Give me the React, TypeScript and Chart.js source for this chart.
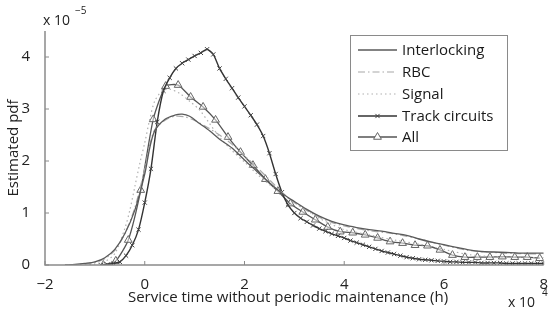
import React, { useEffect, useRef } from "react";
import { Chart, registerables } from "chart.js";
Chart.register(...registerables);

// x in units of 1e4 h, y in units of 1e-5
const xTicks = [-2, 0, 2, 4, 6, 8];
const yTicks = [0, 1, 2, 3, 4];

const interlockingX = [-1.6, -1.4, -1.2, -1.0, -0.8, -0.6, -0.4, -0.2, 0, 0.1, 0.2, 0.4, 0.6, 0.75, 0.9, 1.1, 1.3, 1.5, 1.75, 2.0, 2.25, 2.5, 2.75, 3.0, 3.25, 3.5, 3.75, 4.0, 4.25, 4.5, 4.75, 5.0, 5.25, 5.5, 5.75, 6.0, 6.25, 6.5, 6.75, 7.0, 7.25, 7.5, 7.75, 8.0];
const interlockingY = [0, 0.01, 0.03, 0.06, 0.14, 0.3, 0.6, 1.05, 1.75, 2.25, 2.58, 2.8, 2.88, 2.9, 2.86, 2.72, 2.58, 2.42, 2.25, 2.02, 1.8, 1.58, 1.38, 1.22, 1.07, 0.94, 0.84, 0.77, 0.72, 0.68, 0.65, 0.61, 0.57, 0.5, 0.44, 0.39, 0.34, 0.29, 0.26, 0.25, 0.24, 0.23, 0.23, 0.23];

const rbcX = [-1.5, -1.2, -1.0, -0.8, -0.6, -0.4, -0.2, 0, 0.1, 0.2, 0.4, 0.6, 0.8, 1.0, 1.25, 1.5, 1.75, 2.0, 2.25, 2.5, 2.75, 3.0, 3.25, 3.5, 3.75, 4.0, 4.5, 5.0, 5.5, 6.0, 6.5, 7.0, 7.5, 8.0];
const rbcY = [0, 0.02, 0.05, 0.12, 0.28, 0.6, 1.1, 1.85, 2.3, 2.6, 2.78, 2.86, 2.85, 2.78, 2.65, 2.5, 2.32, 2.1, 1.88, 1.64, 1.4, 1.2, 1.05, 0.92, 0.82, 0.75, 0.66, 0.6, 0.5, 0.38, 0.28, 0.24, 0.22, 0.21];

const signalX = [-1.2, -1.0, -0.8, -0.6, -0.4, -0.3, -0.2, -0.1, 0, 0.1, 0.2, 0.35, 0.5, 0.7, 0.9, 1.1, 1.3, 1.5, 1.75, 2.0, 2.25, 2.5, 2.75, 3.0, 3.25, 3.5, 3.75, 4.0, 4.5, 5.0, 5.5, 6.0, 6.5, 7.0, 7.5, 8.0];
const signalY = [0, 0.02, 0.07, 0.22, 0.7, 1.05, 1.5, 1.95, 2.35, 2.8, 3.15, 3.35, 3.38, 3.3, 3.15, 2.98, 2.72, 2.46, 2.2, 1.98, 1.75, 1.55, 1.38, 1.2, 1.05, 0.9, 0.78, 0.68, 0.58, 0.48, 0.4, 0.3, 0.2, 0.16, 0.15, 0.14];

const trackX = [-0.875, -0.75, -0.625, -0.5, -0.375, -0.25, -0.125, 0, 0.125, 0.25, 0.375, 0.5, 0.625, 0.75, 0.875, 1.0, 1.125, 1.25, 1.375, 1.5, 1.625, 1.75, 1.875, 2.0, 2.125, 2.25, 2.375, 2.5, 2.625, 2.75, 2.875, 3.0, 3.125, 3.25, 3.375, 3.5, 3.625, 3.75, 3.875, 4.0, 4.125, 4.25, 4.375, 4.5, 4.625, 4.75, 4.875, 5.0, 5.125, 5.25, 5.375, 5.5, 5.625, 5.75, 5.875, 6.0, 6.125, 6.25, 6.375, 6.5, 6.625, 6.75, 6.875, 7.0, 7.125, 7.25, 7.375, 7.5, 7.625, 7.75, 7.875, 8.0];
const trackY = [0, 0.01, 0.03, 0.06, 0.18, 0.38, 0.68, 1.2, 1.85, 2.75, 3.35, 3.6, 3.78, 3.88, 3.95, 4.02, 4.08, 4.15, 4.05, 3.78, 3.58, 3.4, 3.22, 3.05, 2.88, 2.7, 2.48, 2.15, 1.75, 1.4, 1.15, 1.0, 0.9, 0.83, 0.76, 0.7, 0.65, 0.6, 0.56, 0.52, 0.47, 0.43, 0.39, 0.35, 0.31, 0.27, 0.24, 0.21, 0.18, 0.15, 0.13, 0.11, 0.1, 0.09, 0.08, 0.07, 0.06, 0.06, 0.05, 0.05, 0.05, 0.04, 0.04, 0.04, 0.04, 0.03, 0.03, 0.03, 0.03, 0.03, 0.03, 0.03];

const allX = [-0.83, -0.58, -0.33, -0.08, 0.17, 0.42, 0.67, 0.92, 1.17, 1.42, 1.67, 1.92, 2.17, 2.42, 2.67, 2.92, 3.17, 3.42, 3.67, 3.92, 4.17, 4.42, 4.67, 4.92, 5.17, 5.42, 5.67, 5.92, 6.17, 6.42, 6.67, 6.92, 7.17, 7.42, 7.67, 7.92];
const allY = [0.0, 0.08, 0.48, 1.44, 2.8, 3.44, 3.46, 3.23, 3.04, 2.79, 2.46, 2.17, 1.92, 1.65, 1.42, 1.18, 1.02, 0.87, 0.73, 0.64, 0.62, 0.58, 0.52, 0.45, 0.42, 0.38, 0.37, 0.29, 0.19, 0.15, 0.15, 0.15, 0.16, 0.15, 0.15, 0.13];

const FONT = "'Open Sans', 'DejaVu Sans', sans-serif";

const pts = (xs: number[], ys: number[]) => xs.map((x, i) => ({ x, y: ys[i] }));

const decorPlugin = {
  id: "decor",
  afterDraw(chart: any) {
    const { ctx, chartArea } = chart;
    const xs = chart.scales.x;
    const ys = chart.scales.y;
    ctx.save();
    // axes
    ctx.strokeStyle = "#8a8a8a";
    ctx.lineWidth = 1.5;
    ctx.beginPath();
    ctx.moveTo(chartArea.left, chartArea.top);
    ctx.lineTo(chartArea.left, chartArea.bottom);
    ctx.lineTo(chartArea.right, chartArea.bottom);
    ctx.stroke();
    ctx.lineWidth = 1;
    ctx.beginPath();
    xTicks.forEach((v) => {
      const px = xs.getPixelForValue(v);
      ctx.moveTo(px, chartArea.bottom);
      ctx.lineTo(px, chartArea.bottom - 4);
    });
    yTicks.forEach((v) => {
      const py = ys.getPixelForValue(v);
      ctx.moveTo(chartArea.left, py);
      ctx.lineTo(chartArea.left + 4, py);
    });
    ctx.stroke();

    ctx.fillStyle = "#222";
    // x title
    ctx.font = `15px ${FONT}`;
    ctx.textAlign = "center";
    ctx.textBaseline = "middle";
    ctx.fillText("Service time without periodic maintenance (h)", 288, 298);
    // y title
    ctx.save();
    ctx.translate(14, 148);
    ctx.rotate(-Math.PI / 2);
    ctx.fillText("Estimated pdf", 0, 0);
    ctx.restore();
    // exponents
    ctx.textAlign = "left";
    ctx.font = `14px ${FONT}`;
    ctx.fillText("x 10", 43, 21);
    ctx.font = `10px ${FONT}`;
    ctx.fillText("\u22125", 75, 11);
    ctx.font = `14px ${FONT}`;
    ctx.fillText("x 10", 508, 303);
    ctx.font = `10px ${FONT}`;
    ctx.fillText("4", 542, 293);

    // legend
    const bx = 350, by = 35, bw = 157, bh = 115;
    ctx.fillStyle = "#fff";
    ctx.fillRect(bx, by, bw, bh);
    ctx.strokeStyle = "#8a8a8a";
    ctx.lineWidth = 1;
    ctx.strokeRect(bx + 0.5, by + 0.5, bw, bh);
    const rowY = [50, 72, 94, 116, 137];
    chart.data.datasets.forEach((ds: any, i: number) => {
      const y = rowY[i];
      ctx.save();
      ctx.strokeStyle = ds.borderColor;
      ctx.lineWidth = ds.borderWidth;
      ctx.setLineDash(ds.borderDash || []);
      ctx.beginPath();
      ctx.moveTo(358, y);
      ctx.lineTo(397, y);
      ctx.stroke();
      ctx.restore();
      if (ds.pointRadius > 0) {
        ctx.save();
        ctx.strokeStyle = ds.pointBorderColor || ds.borderColor;
        ctx.fillStyle = "#fff";
        ctx.lineWidth = 1;
        const r = ds.pointRadius;
        const cx = 377.5;
        if (ds.pointStyle === "triangle") {
          ctx.beginPath();
          ctx.moveTo(cx, y - r);
          ctx.lineTo(cx + r * 0.87, y + r * 0.5);
          ctx.lineTo(cx - r * 0.87, y + r * 0.5);
          ctx.closePath();
          ctx.fill();
          ctx.stroke();
        } else {
          ctx.beginPath();
          ctx.moveTo(cx - r * 0.7, y - r * 0.7);
          ctx.lineTo(cx + r * 0.7, y + r * 0.7);
          ctx.moveTo(cx + r * 0.7, y - r * 0.7);
          ctx.lineTo(cx - r * 0.7, y + r * 0.7);
          ctx.stroke();
        }
        ctx.restore();
      }
      ctx.fillStyle = "#1a1a1a";
      ctx.font = `15px ${FONT}`;
      ctx.textAlign = "left";
      ctx.textBaseline = "middle";
      ctx.fillText(ds.label, 402, y + 1);
    });
    ctx.restore();
  },
};

export default function App() {
  const ref = useRef<HTMLCanvasElement>(null);
  useEffect(() => {
    if (!ref.current) return;
    const chart = new Chart(ref.current, {
      type: "line",
      data: {
        datasets: [
          { label: "Interlocking", data: pts(interlockingX, interlockingY), borderColor: "#5a5a5a", borderWidth: 1.3, pointRadius: 0, tension: 0.3 },
          { label: "RBC", data: pts(rbcX, rbcY), borderColor: "#a8a8a8", borderWidth: 1.2, borderDash: [7, 3, 1.5, 3], pointRadius: 0, tension: 0.3 },
          { label: "Signal", data: pts(signalX, signalY), borderColor: "#b0b0b0", borderWidth: 1.2, borderDash: [1.5, 3], pointRadius: 0, tension: 0.3 },
          { label: "Track circuits", data: pts(trackX, trackY), borderColor: "#333333", borderWidth: 1.4, pointStyle: "crossRot", pointRadius: 3, pointBorderColor: "#444", pointBorderWidth: 1, pointBackgroundColor: "#444", tension: 0.2 },
          { label: "All", data: pts(allX, allY), borderColor: "#555555", borderWidth: 1.3, pointStyle: "triangle", pointRadius: 4.5, pointBorderColor: "#666", pointBorderWidth: 1, pointBackgroundColor: "rgba(255,255,255,0.5)", tension: 0.2 },
        ] as any,
      },
      options: {
        animation: false,
        responsive: false,
        maintainAspectRatio: false,
        layout: { padding: { top: 31, right: 3, left: 0, bottom: 0 } },
        plugins: { legend: { display: false }, tooltip: { enabled: false } },
        scales: {
          x: {
            type: "linear",
            min: -2,
            max: 8,
            grid: { display: false },
            border: { display: false },
            afterBuildTicks: (s: any) => { s.ticks = xTicks.map((v) => ({ value: v })); },
            afterFit: (s: any) => { s.height = 47; },
            ticks: {
              padding: 3,
              color: "#222",
              font: { family: FONT, size: 15 },
              maxRotation: 0,
              callback: (v: any) => (Number(v) < 0 ? "\u2212" + Math.abs(Number(v)) : String(v)),
            },
          },
          y: {
            type: "linear",
            min: 0,
            max: 4.5,
            grid: { display: false },
            border: { display: false },
            afterBuildTicks: (s: any) => { s.ticks = yTicks.map((v) => ({ value: v })); },
            afterFit: (s: any) => { s.width = 45; },
            ticks: {
              padding: 7,
              color: "#222",
              font: { family: FONT, size: 15 },
              callback: (v: any) => String(v),
            },
          },
        },
      },
      plugins: [decorPlugin],
    });
    return () => chart.destroy();
  }, []);
  return (
    <div style={{ position: "fixed", left: 0, top: 0, width: 551, height: 312, background: "#fff" }}>
      <canvas ref={ref} width={551} height={312} style={{ width: 551, height: 312 }} />
    </div>
  );
}
